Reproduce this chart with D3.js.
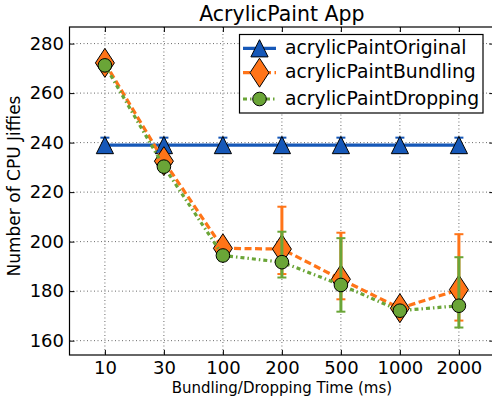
<!DOCTYPE html>
<html><head><meta charset="utf-8">
<script src="https://cdn.jsdelivr.net/npm/d3@7"></script>
<style>body{margin:0;background:#fff}svg{display:block;font-family:"DejaVu Sans",sans-serif}</style>
</head><body><svg id="c" width="492" height="400"></svg>
<script>
const categories = ["10","30","100","200","500","1000","2000"];
const yTicks = [160,180,200,220,240,260,280];
const seriesNames = ["acrylicPaintOriginal","acrylicPaintBundling","acrylicPaintDropping"];
const originalVals = [239,239,239,239,239,239,239];
const originalErrLow = [3,3,3,3,3,3,3];
const originalErrHigh = [3,3,3,3,3,3,3];
const bundlingVals = [272.2,232.5,197.3,197,184.8,173.1,180.6];
const bundlingErrLow = [2,2,2,10.1,8.1,2,12.5];
const bundlingErrHigh = [2,2,2,17.1,18.8,2,22.4];
const droppingVals = [271.2,230.3,194.4,191.7,182.5,172.1,174.1];
const droppingErrLow = [2,2,2,6.2,10.8,2,8.8];
const droppingErrHigh = [2,2,2,12.3,18.9,2,19.6];

const svg = d3.select("#c");
const L=69.5, R=494.3, T=27, B=355;
const x = d3.scaleLinear().domain([-0.6,6.6]).range([L,R]);
const y = d3.scaleLinear().domain([154.2,286.7]).range([B,T]);

const colors = ["#1658b8","#ff7418","#6aa537"];
const dashes = [null,"7,3.5","4,3,1.5,3"];

// grid
const grid = svg.append("g");
categories.forEach((c,i)=>grid.append("line").attr("x1",x(i)).attr("x2",x(i)).attr("y1",T).attr("y2",B)
  .attr("stroke","#444").attr("stroke-width",0.8).attr("stroke-dasharray","1,2.5"));
yTicks.forEach(v=>grid.append("line").attr("x1",L).attr("x2",R).attr("y1",y(v)).attr("y2",y(v))
  .attr("stroke","#444").attr("stroke-width",0.8).attr("stroke-dasharray","1,2.5"));

// axes with inward ticks
const xb = d3.axisBottom(x).tickValues(d3.range(categories.length)).tickFormat(i=>categories[i]).tickSizeInner(-5).tickSizeOuter(0).tickPadding(6);
const xt = d3.axisTop(x).tickValues(d3.range(categories.length)).tickFormat("").tickSizeInner(-5).tickSizeOuter(0);
const yl = d3.axisLeft(y).tickValues(yTicks).tickSizeInner(-5).tickSizeOuter(0).tickPadding(5.5);
const yr = d3.axisRight(y).tickValues(yTicks).tickFormat("").tickSizeInner(-5).tickSizeOuter(0);
function styleAx(g){g.selectAll("path.domain").remove();g.selectAll("line").attr("stroke","#000").attr("stroke-width",1);
  g.selectAll("text").attr("fill","#000").attr("font-size",18).attr("font-family","DejaVu Sans");}
svg.append("g").attr("transform",`translate(0,${B})`).call(xb).call(styleAx);
svg.append("g").attr("transform",`translate(0,${T})`).call(xt).call(styleAx);
svg.append("g").attr("transform",`translate(${L},0)`).call(yl).call(styleAx);
svg.append("g").attr("transform",`translate(${R},0)`).call(yr).call(styleAx);
svg.append("rect").attr("x",L).attr("y",T).attr("width",R-L).attr("height",B-T).attr("fill","none").attr("stroke","#000").attr("stroke-width",1.2);

// markers
function marker(g,type,cx,cy,col){
  if(type===0){ const h=8.6; g.append("path").attr("d",`M${cx},${cy-h}L${cx+h},${cy+h}L${cx-h},${cy+h}Z`).attr("fill",col).attr("stroke","#000").attr("stroke-width",1);}
  else if(type===1){ const h=14.5,w=9.5; g.append("path").attr("d",`M${cx},${cy-h}L${cx+w},${cy}L${cx},${cy+h}L${cx-w},${cy}Z`).attr("fill",col).attr("stroke","#000").attr("stroke-width",1);}
  else { g.append("circle").attr("cx",cx).attr("cy",cy).attr("r",6.8).attr("fill",col).attr("stroke","#000").attr("stroke-width",1);}
}

const allSeries = [
  {vals:originalVals, lo:originalErrLow, hi:originalErrHigh},
  {vals:bundlingVals, lo:bundlingErrLow, hi:bundlingErrHigh},
  {vals:droppingVals, lo:droppingErrLow, hi:droppingErrHigh}
];
const plot = svg.append("g");
const line = d3.line().x((d,i)=>x(i)).y(d=>y(d));
allSeries.forEach((s,k)=>{
  const g = plot.append("g");
  s.vals.forEach((v,i)=>{
    const y1=y(v+s.hi[i]), y0=y(v-s.lo[i]);
    g.append("line").attr("x1",x(i)).attr("x2",x(i)).attr("y1",y1).attr("y2",y0).attr("stroke",colors[k]).attr("stroke-width",3);
    [y1,y0].forEach(yy=>g.append("line").attr("x1",x(i)-4.5).attr("x2",x(i)+4.5).attr("y1",yy).attr("y2",yy).attr("stroke",colors[k]).attr("stroke-width",2));
  });
  const p = g.append("path").datum(s.vals).attr("d",line).attr("fill","none").attr("stroke",colors[k]).attr("stroke-width",3.2);
  if(dashes[k]) p.attr("stroke-dasharray",dashes[k]);
  s.vals.forEach((v,i)=>marker(g,k,x(i),y(v),colors[k]));
});

// title and labels
svg.append("text").attr("x",(L+R)/2).attr("y",21).attr("text-anchor","middle").attr("font-size",20.5).text("AcrylicPaint App");
svg.append("text").attr("x",(L+R)/2).attr("y",393).attr("text-anchor","middle").attr("font-size",15).text("Bundling/Dropping Time (ms)");
svg.append("text").attr("transform","translate(19.5,186) rotate(-90)").attr("text-anchor","middle").attr("font-size",17).text("Number of CPU Jiffies");

// legend
const lg = svg.append("g");
lg.append("rect").attr("x",239.5).attr("y",34.5).attr("width",243.5).attr("height",78.5).attr("fill","#fff").attr("stroke","#000").attr("stroke-width",1.2);
const rowY=[48.3,72.7,99];
seriesNames.forEach((n,k)=>{
  const l = lg.append("line").attr("x1",243).attr("x2",276).attr("y1",rowY[k]).attr("y2",rowY[k]).attr("stroke",colors[k]).attr("stroke-width",3.2);
  if(dashes[k]) l.attr("stroke-dasharray",dashes[k]);
  marker(lg,k,259.5,rowY[k],colors[k]);
  lg.append("text").attr("x",285).attr("y",rowY[k]+5.5).attr("font-size",18.8).text(n);
});
</script></body></html>
